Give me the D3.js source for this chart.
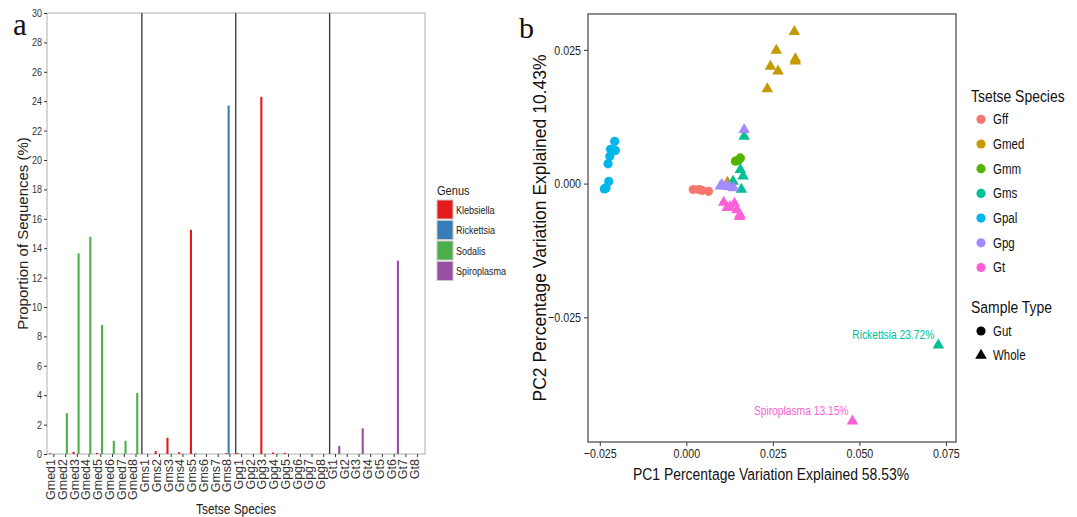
<!DOCTYPE html>
<html>
<head>
<meta charset="utf-8">
<script src="https://cdn.jsdelivr.net/npm/d3@7"></script>
<style>
  body { margin: 0; background: #fff; }
  svg text { font-family: "Liberation Sans", Arial, sans-serif; }
</style>
</head>
<body>
<svg id="chart" width="1077" height="517"></svg>
<script>
// ---- panel a data ----
const categories = [
  "Gmed1","Gmed2","Gmed3","Gmed4","Gmed5","Gmed6","Gmed7","Gmed8",
  "Gms1","Gms2","Gms3","Gms4","Gms5","Gms6","Gms7","Gms8",
  "Gpg1","Gpg2","Gpg3","Gpg4","Gpg5","Gpg6","Gpg7","Gpg8",
  "Gt1","Gt2","Gt3","Gt4","Gt5","Gt6","Gt7","Gt8"
];
const genera = ["Klebsiella", "Rickettsia", "Sodalis", "Spiroplasma"];
const genusColors = ["#e41a1c", "#377eb8", "#4daf4a", "#984ea3"];
const klebsiella = [0.05,0,0.15,0,0.08,0,0,0, 0,0.2,1.1,0.12,15.25,0,0,0.06, 0.05,0,24.3,0.1,0.08,0,0,0, 0,0,0,0,0,0,0,0];
const rickettsia = [0,0,0,0,0,0,0,0, 0,0,0,0,0,0,0,23.7, 0,0,0,0,0,0,0,0, 0,0,0,0,0,0,0,0];
const sodalis    = [0,2.78,13.65,14.78,8.78,0.9,0.9,4.15, 0,0,0,0,0.04,0,0,0, 0,0,0,0.03,0,0,0,0, 0,0,0,0,0,0,0,0];
const spiroplasma= [0,0,0,0,0,0,0,0, 0,0,0,0,0,0,0,0, 0,0,0,0,0,0,0,0, 0.55,0,1.75,0,0,13.15,0,0];
const yTicksA = d3.range(0, 31, 2);
const groupEnds = ["Gmed8", "Gms8", "Gpg8"];

// ---- panel b data ----
const species = ["Gff","Gmed","Gmm","Gms","Gpal","Gpg","Gt"];
const speciesColors = ["#F8766D","#C49A00","#53B400","#00C094","#00B6EB","#A58AFF","#FB61D7"];
const speciesType = ["Gut","Whole","Gut","Whole","Gut","Whole","Whole"];
const gff  = [[0.0020,-0.0011],[0.0036,-0.0011],[0.0045,-0.00125],[0.0064,-0.00144]];
const gmed = [[0.0312,0.0284],[0.0260,0.0249],[0.0243,0.0219],[0.0265,0.0210],[0.0315,0.0233],[0.0315,0.0229],[0.0234,0.0177],[0.0119,0.0002]];
const gmm  = [[0.0142,0.0042],[0.0151,0.0044],[0.0156,0.0048]];
const gms  = [[0.0167,0.0088],[0.0156,0.0026],[0.0164,0.0014],[0.0135,0.0004],[0.0159,-0.0011],[0.0728,-0.0302]];
const gpal = [[-0.0207,0.0079],[-0.0219,0.0064],[-0.0205,0.0062],[-0.0221,0.0051],[-0.0226,0.0037],[-0.0224,0.0004],[-0.0232,-0.0008],[-0.0237,-0.0010]];
const gpg  = [[0.0167,0.0101],[0.0103,-0.0002],[0.0115,-0.0005],[0.0125,-0.0006],[0.0137,-0.0008],[0.0098,-0.0005]];
const gt   = [[0.0108,-0.0035],[0.0118,-0.0045],[0.0126,-0.0043],[0.0139,-0.0037],[0.0146,-0.0049],[0.0155,-0.0058],[0.0154,-0.0062],[0.0480,-0.0444]];
const pcaPoints = [gff, gmed, gmm, gms, gpal, gpg, gt];
const xTicksB = [-0.025, 0, 0.025, 0.05, 0.075];
const yTicksB = [-0.025, 0, 0.025];
const labels = [
  {text: "Rickettsia 23.72%", at: [0.0728, -0.0302], color: "#00C094"},
  {text: "Spiroplasma 13.15%", at: [0.0480, -0.0444], color: "#FB61D7"}
];

const svg = d3.select("#chart");
const squeezeK = 0.82;
// the figure's horizontal text is narrower than the installed fonts
function squeeze(sel) {
  sel.each(function() {
    const w = this.getComputedTextLength();
    d3.select(this).attr("textLength", w * squeezeK).attr("lengthAdjust", "spacingAndGlyphs");
  });
}
// narrow text via a transform, anchored at (x, y)
function narrowText(parent, x, y, size, anchor, str) {
  return parent.append("text")
    .attr("transform", "translate(" + x + "," + y + ") scale(" + squeezeK + ",1)")
    .attr("text-anchor", anchor).attr("font-size", size).attr("fill", "#111")
    .text(str);
}

// ================= panel a =================
const A = {left: 47, right: 425, top: 13, bottom: 454};
const x = d3.scaleBand().domain(categories).range([48, 423.5]);
const xg = d3.scaleBand().domain(genera).range([-5, 5]);
const y = d3.scaleLinear().domain([0, 30]).range([A.bottom, A.top]);
const ga = svg.append("g");

ga.append("rect")
  .attr("x", A.left).attr("y", A.top)
  .attr("width", A.right - A.left).attr("height", A.bottom - A.top)
  .attr("fill", "none").attr("stroke", "#bdbdbd").attr("stroke-width", 1.2);

const seriesA = [klebsiella, rickettsia, sodalis, spiroplasma];
const bars = [];
seriesA.forEach((vals, gi) => vals.forEach((v, ci) => {
  if (v > 0) bars.push({cat: categories[ci], genus: genera[gi], value: v, color: genusColors[gi]});
}));
ga.selectAll("rect.bar").data(bars).enter().append("rect")
  .attr("class", "bar")
  .attr("x", d => x(d.cat) + x.bandwidth() / 2 + xg(d.genus) + 0.2)
  .attr("width", xg.bandwidth() - 0.4)
  .attr("y", d => y(d.value))
  .attr("height", d => y(0) - y(d.value))
  .attr("fill", d => d.color);

// separators between species
ga.selectAll("line.sep").data(groupEnds).enter().append("line")
  .attr("x1", d => x(d) + x.step()).attr("x2", d => x(d) + x.step())
  .attr("y1", A.top).attr("y2", A.bottom)
  .attr("stroke", "#333").attr("stroke-width", 1.3);

const yAxisA = ga.append("g")
  .attr("transform", "translate(" + A.left + ",0)")
  .call(d3.axisLeft(y).tickValues(yTicksA).tickSize(3).tickPadding(2));
yAxisA.select(".domain").remove();
yAxisA.selectAll("line").attr("stroke", "#333");
yAxisA.selectAll("text").attr("font-size", 11).attr("fill", "#333").attr("font-family", null).call(squeeze);

const xAxisA = ga.append("g")
  .attr("transform", "translate(0," + A.bottom + ")")
  .call(d3.axisBottom(x).tickSize(3).tickPadding(2));
xAxisA.select(".domain").remove();
xAxisA.selectAll("line").attr("stroke", "#333");
xAxisA.selectAll("text")
  .attr("font-size", 12.5).attr("fill", "#333").attr("font-family", null)
  .attr("text-anchor", "end")
  .attr("transform", "rotate(-90)")
  .attr("x", -5).attr("y", -3).attr("dy", "0.35em");

ga.append("text")
  .attr("transform", "translate(23," + (A.top + A.bottom) / 2 + ") rotate(-90)")
  .attr("text-anchor", "middle").attr("dy", "0.35em")
  .attr("font-size", 15).attr("fill", "#222")
  .text("Proportion of Sequences (%)");
narrowText(ga, 236, 514, 14.5, "middle", "Tsetse Species").attr("fill", "#222");
ga.append("text")
  .attr("x", 13).attr("y", 35)
  .style("font-family", "'Liberation Serif', 'Times New Roman', serif")
  .attr("font-size", 31).attr("fill", "#111").text("a");

// genus legend
const lg = ga.append("g").attr("transform", "translate(437,0)");
narrowText(lg, 0, 195, 13.5, "start", "Genus").attr("fill", "#222");
const lgItems = lg.selectAll("g.item").data(genera).enter().append("g")
  .attr("transform", (d, i) => "translate(0," + (200 + i * 20.5) + ")");
lgItems.append("rect").attr("width", 16).attr("height", 19)
  .attr("fill", (d, i) => genusColors[i]).attr("stroke", "#c8c8c8").attr("stroke-width", 1);
lgItems.append("text").attr("x", 19).attr("y", 10).attr("dy", "0.35em")
  .attr("font-size", 11).attr("fill", "#222").text(d => d).call(squeeze);

// ================= panel b =================
const B = {left: 588, right: 956, top: 14, bottom: 442};
const xb = d3.scaleLinear().domain([-0.0284, 0.0779]).range([B.left, B.right]);
const yb = d3.scaleLinear().domain([-0.0483, 0.0317]).range([B.bottom, B.top]);
const gb = svg.append("g");

const xAxisB = gb.append("g")
  .attr("transform", "translate(0," + B.bottom + ")")
  .call(d3.axisBottom(xb).tickValues(xTicksB).tickFormat(d3.format(".3f")).tickSize(4).tickPadding(3));
xAxisB.select(".domain").remove();
xAxisB.selectAll("line").attr("stroke", "#333");
xAxisB.selectAll("text").attr("font-size", 13).attr("fill", "#222").attr("font-family", null).call(squeeze);

const yAxisB = gb.append("g")
  .attr("transform", "translate(" + B.left + ",0)")
  .call(d3.axisLeft(yb).tickValues(yTicksB).tickFormat(d3.format(".3f")).tickSize(4).tickPadding(3));
yAxisB.select(".domain").remove();
yAxisB.selectAll("line").attr("stroke", "#333");
yAxisB.selectAll("text").attr("font-size", 13).attr("fill", "#222").attr("font-family", null).call(squeeze);

gb.append("rect")
  .attr("x", B.left).attr("y", B.top)
  .attr("width", B.right - B.left).attr("height", B.bottom - B.top)
  .attr("fill", "none").attr("stroke", "#444").attr("stroke-width", 1.2);

const triangle = d3.symbol().type(d3.symbolTriangle).size(58);
const pts = [];
pcaPoints.forEach((arr, si) => arr.forEach(p => pts.push({pc1: p[0], pc2: p[1], color: speciesColors[si], type: speciesType[si]})));
gb.selectAll("circle.pt").data(pts.filter(d => d.type === "Gut")).enter().append("circle")
  .attr("class", "pt")
  .attr("cx", d => xb(d.pc1)).attr("cy", d => yb(d.pc2)).attr("r", 4.6)
  .attr("fill", d => d.color);
gb.selectAll("path.pt").data(pts.filter(d => d.type === "Whole")).enter().append("path")
  .attr("class", "pt")
  .attr("transform", d => "translate(" + xb(d.pc1) + "," + yb(d.pc2) + ")")
  .attr("d", triangle)
  .attr("fill", d => d.color);

gb.selectAll("text.lab").data(labels).enter().append("text")
  .attr("x", d => xb(d.at[0]) - 4).attr("y", d => yb(d.at[1]) - 6)
  .attr("text-anchor", "end").attr("font-size", 12.5)
  .attr("fill", d => d.color).text(d => d.text).call(squeeze);

narrowText(gb, 771, 480, 17, "middle", "PC1 Percentage Variation Explained 58.53%");
gb.append("text")
  .attr("transform", "translate(540," + (B.top + B.bottom) / 2 + ") rotate(-90)")
  .attr("text-anchor", "middle").attr("dy", "0.35em")
  .attr("font-size", 17.5).attr("fill", "#111")
  .text("PC2 Percentage Variation Explained 10.43%");
gb.append("text")
  .attr("x", 519).attr("y", 38)
  .style("font-family", "'Liberation Serif', 'Times New Roman', serif")
  .attr("font-size", 30).attr("fill", "#111").text("b");

// species + sample type legends
const sl = gb.append("g").attr("transform", "translate(971,0)");
narrowText(sl, 0, 102, 17, "start", "Tsetse Species");
const slItems = sl.selectAll("g.item").data(species).enter().append("g")
  .attr("transform", (d, i) => "translate(0," + (119.3 + i * 24.7) + ")");
slItems.append("circle").attr("cx", 10).attr("cy", 0).attr("r", 4.6).attr("fill", (d, i) => speciesColors[i]);
slItems.append("text").attr("x", 22).attr("y", 0).attr("dy", "0.35em")
  .attr("font-size", 14).attr("fill", "#111").text(d => d).call(squeeze);

narrowText(sl, 0, 313, 17, "start", "Sample Type");
const types = ["Gut", "Whole"];
const tlItems = sl.selectAll("g.titem").data(types).enter().append("g")
  .attr("transform", (d, i) => "translate(0," + (331 + i * 24.5) + ")");
tlItems.append("path")
  .attr("transform", "translate(10,0)")
  .attr("d", d => d === "Gut" ? d3.symbol().type(d3.symbolCircle).size(66)() : triangle())
  .attr("fill", "#000");
tlItems.append("text").attr("x", 22).attr("y", 0).attr("dy", "0.35em")
  .attr("font-size", 14).attr("fill", "#111").text(d => d).call(squeeze);
</script>
</body>
</html>
